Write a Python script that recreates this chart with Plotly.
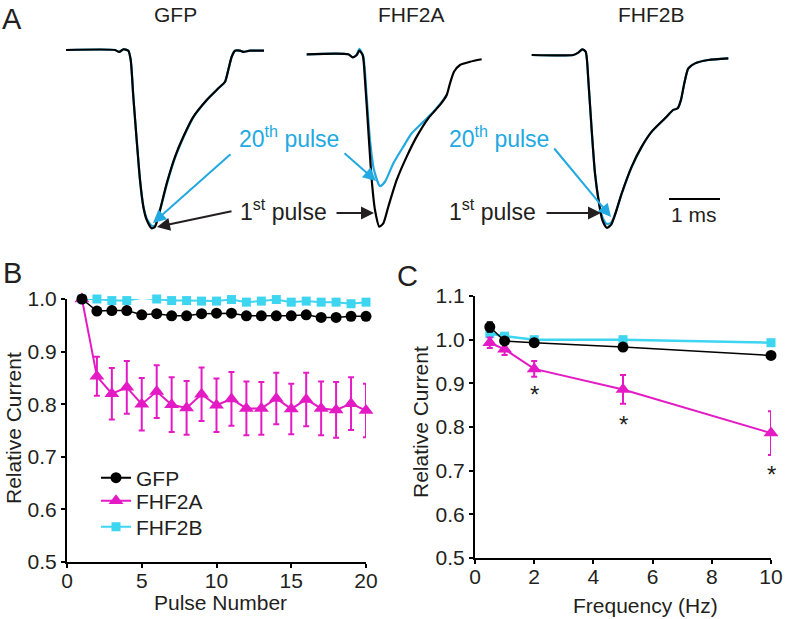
import plotly.graph_objects as go

W, H = 787, 619
FONT = "Liberation Sans, Arial, sans-serif"
TXT = "#231f20"
BLACK = "#000000"
MAGENTA = "#e41bc5"
CYAN = "#3dd5f0"
BLUE = "#22a9e1"

# ---------------- Panel A: current traces (time in ms, normalized current) -------------
GFP_T = [0, 0.961, 1.045, 1.124, 1.222, 1.269, 1.320, 1.386, 1.451, 1.516, 1.582, 1.680, 1.745,
         1.843, 1.975, 2.137, 2.300, 2.496, 2.759, 2.986, 3.118, 3.182, 3.249, 3.314, 3.412,
         3.477, 3.608, 3.882]
GFP_1ST = [0, 0, -0.011, 0.004, -0.004, -0.056, -0.262, -0.505, -0.729, -0.879, -0.953, -1.0,
           -0.991, -0.897, -0.748, -0.599, -0.487, -0.375, -0.280, -0.215, -0.178, -0.112,
           -0.038, -0.004, -0.004, -0.010, -0.004, -0.004]
GFP_20TH = [0, 0, -0.011, 0.004, -0.004, -0.056, -0.262, -0.505, -0.729, -0.875, -0.945, -0.985,
            -0.985, -0.900, -0.755, -0.605, -0.492, -0.378, -0.282, -0.216, -0.178, -0.112,
            -0.038, -0.004, -0.004, -0.010, -0.004, -0.004]

FHF2A_T1 = [0, 0.816, 0.902, 0.980, 1.031, 1.098, 1.143, 1.208, 1.275, 1.339, 1.424, 1.502,
            1.600, 1.765, 1.961, 2.157, 2.384, 2.614, 2.745, 2.810, 2.888, 3.006, 3.202, 3.431]
FHF2A_1ST = [-0.024, -0.024, -0.041, -0.028, -0.004, -0.028, -0.168, -0.449, -0.729, -0.897,
             -0.991, -0.972, -0.879, -0.729, -0.598, -0.486, -0.383, -0.308, -0.252, -0.187,
             -0.122, -0.084, -0.066, -0.052]
FHF2A_T20 = [0, 0.816, 0.902, 0.980, 1.031, 1.110, 1.176, 1.241, 1.320, 1.437, 1.535, 1.698,
             1.894, 2.059, 2.222, 2.484, 2.680, 2.745]
FHF2A_20TH = [-0.024, -0.024, -0.041, -0.028, 0.006, -0.038, -0.262, -0.505, -0.673, -0.763,
              -0.739, -0.636, -0.542, -0.467, -0.421, -0.346, -0.280, -0.252]

FHF2B_T = [0, 0.816, 0.914, 0.992, 1.059, 1.110, 1.176, 1.241, 1.320, 1.384, 1.471, 1.555, 1.633,
           1.765, 1.961, 2.157, 2.353, 2.614, 2.776, 2.863, 2.927, 2.992, 3.071, 3.202, 3.463,
           3.855]
FHF2B_1ST = [-0.028, -0.028, -0.015, 0.004, -0.010, -0.168, -0.449, -0.692, -0.860, -0.953,
             -0.997, -0.981, -0.925, -0.804, -0.654, -0.542, -0.458, -0.383, -0.336, -0.327,
             -0.280, -0.187, -0.103, -0.075, -0.056, -0.047]
FHF2B_20TH = [-0.028, -0.028, -0.015, 0.004, -0.010, -0.168, -0.449, -0.692, -0.855, -0.935,
              -0.975, -0.970, -0.922, -0.806, -0.656, -0.544, -0.458, -0.383, -0.336, -0.327,
              -0.280, -0.187, -0.103, -0.075, -0.056, -0.047]
SCALE_BAR_MS = 1.0
TRACE_TITLES = ["GFP", "FHF2A", "FHF2B"]

# ---------------- Panel B: relative current vs pulse number ----------------
PULSES = list(range(1, 21))
B_GFP = [1.0, 0.977, 0.978, 0.978, 0.970, 0.972, 0.968, 0.968, 0.972, 0.973, 0.973, 0.968,
         0.968, 0.968, 0.968, 0.970, 0.965, 0.965, 0.967, 0.967]
B_FHF2B = [1.0, 1.0, 0.997, 0.997, 1.002, 1.0, 0.997, 0.997, 0.996, 0.996, 0.999, 0.994, 0.996,
           0.999, 0.994, 0.996, 0.994, 0.994, 0.991, 0.994]
B_FHF2A = [1.0, 0.853, 0.820, 0.832, 0.800, 0.824, 0.799, 0.793, 0.819, 0.798, 0.810, 0.792,
           0.792, 0.811, 0.791, 0.809, 0.792, 0.789, 0.801, 0.788]
B_FHF2A_ERR = [0, 0.037, 0.049, 0.050, 0.050, 0.050, 0.052, 0.051, 0.051, 0.051, 0.051, 0.051,
               0.050, 0.049, 0.048, 0.051, 0.051, 0.053, 0.050, 0.051]

# ---------------- Panel C: relative current vs frequency ----------------
FREQ = [0.5, 1, 2, 5, 10]
C_GFP = [1.029, 0.997, 0.993, 0.983, 0.964]
C_GFP_ERR = [0.011, 0.004, 0.003, 0.003, 0.003]
C_FHF2B = [1.014, 1.008, 1.0, 1.0, 0.993]
C_FHF2A = [0.993, 0.978, 0.933, 0.886, 0.786]
C_FHF2A_ERR = [0.012, 0.013, 0.018, 0.033, 0.050]
SIG_FREQ = [2, 5, 10]
SIG_Y = [0.874, 0.806, 0.691]

SERIES = ["GFP", "FHF2A", "FHF2B"]


def X(px):
    return px / W


def Y(py):
    return 1 - py / H


fig = go.Figure()

# ---- Panel A traces ----
tr_axes = [("x3", "y3"), ("x4", "y3"), ("x5", "y3")]
pairs = [(GFP_T, GFP_20TH, GFP_T, GFP_1ST),
         (FHF2A_T20, FHF2A_20TH, FHF2A_T1, FHF2A_1ST),
         (FHF2B_T, FHF2B_20TH, FHF2B_T, FHF2B_1ST)]
for (xa, ya), (t20, v20, t1, v1) in zip(tr_axes, pairs):
    fig.add_trace(go.Scatter(x=t20, y=v20, mode="lines", xaxis=xa, yaxis=ya,
                             line=dict(color=BLUE, width=2.2, shape="spline", smoothing=0.6),
                             showlegend=False, hoverinfo="skip"))
    fig.add_trace(go.Scatter(x=t1, y=v1, mode="lines", xaxis=xa, yaxis=ya,
                             line=dict(color=BLACK, width=2.2, shape="spline", smoothing=0.6),
                             showlegend=False, hoverinfo="skip"))

# ---- Panel B ----
fig.add_trace(go.Scatter(x=PULSES, y=B_FHF2B, mode="lines+markers", xaxis="x", yaxis="y",
                         line=dict(color=CYAN, width=2),
                         marker=dict(symbol="square", size=9, color=CYAN),
                         cliponaxis=False, showlegend=False))
fig.add_trace(go.Scatter(x=PULSES, y=B_FHF2A, mode="lines+markers", xaxis="x", yaxis="y",
                         line=dict(color=MAGENTA, width=2),
                         marker=dict(symbol="triangle-up", size=13, color=MAGENTA),
                         error_y=dict(type="data", array=B_FHF2A_ERR, color=MAGENTA,
                                      thickness=2, width=3),
                         cliponaxis=False, showlegend=False))
fig.add_trace(go.Scatter(x=PULSES, y=B_GFP, mode="lines+markers", xaxis="x", yaxis="y",
                         line=dict(color=BLACK, width=1.5),
                         marker=dict(symbol="circle", size=11, color=BLACK),
                         cliponaxis=False, showlegend=False))

# legend entries (one legend per entry for exact spacing)
leg_styles = [dict(line=dict(color=BLACK, width=2), marker=dict(size=11, color=BLACK)),
              dict(line=dict(color=MAGENTA, width=2),
                   marker=dict(symbol="triangle-up", size=13, color=MAGENTA)),
              dict(line=dict(color=CYAN, width=2),
                   marker=dict(symbol="square", size=9, color=CYAN))]
leg_ids = ["legend", "legend2", "legend3"]
for name, st, lid in zip(SERIES, leg_styles, leg_ids):
    fig.add_trace(go.Scatter(x=[None], y=[None], mode="lines+markers", name=name,
                             legend=lid, **st))

# ---- Panel C ----
fig.add_trace(go.Scatter(x=FREQ, y=C_FHF2B, mode="lines+markers", xaxis="x2", yaxis="y2",
                         line=dict(color=CYAN, width=2.5),
                         marker=dict(symbol="square", size=9, color=CYAN),
                         cliponaxis=False, showlegend=False))
fig.add_trace(go.Scatter(x=FREQ, y=C_FHF2A, mode="lines+markers", xaxis="x2", yaxis="y2",
                         line=dict(color=MAGENTA, width=2),
                         marker=dict(symbol="triangle-up", size=13, color=MAGENTA),
                         error_y=dict(type="data", array=C_FHF2A_ERR, color=MAGENTA,
                                      thickness=2, width=3),
                         cliponaxis=False, showlegend=False))
fig.add_trace(go.Scatter(x=FREQ, y=C_GFP, mode="lines+markers", xaxis="x2", yaxis="y2",
                         line=dict(color=BLACK, width=1.5),
                         marker=dict(symbol="circle", size=11, color=BLACK),
                         error_y=dict(type="data", array=C_GFP_ERR, color=BLACK,
                                      thickness=2, width=3),
                         cliponaxis=False, showlegend=False))

ann = []
# asterisks
for f, y in zip(SIG_FREQ, SIG_Y):
    ann.append(dict(x=f, y=y, xref="x2", yref="y2", text="*", showarrow=False,
                    xanchor="center", yanchor="middle",
                    font=dict(size=24, color=TXT, family=FONT)))

# panel letters
for txt, px, py in [("A", 12, 19), ("B", 12, 273), ("C", 407, 276)]:
    ann.append(dict(x=X(px), y=Y(py), xref="paper", yref="paper", text=txt, showarrow=False,
                    font=dict(size=29, color=TXT, family=FONT), xanchor="center", yanchor="middle"))

# trace titles
for txt, px in zip(TRACE_TITLES, [175, 411, 651]):
    ann.append(dict(x=X(px), y=Y(14), xref="paper", yref="paper", text=txt, showarrow=False,
                    font=dict(size=21, color=TXT, family=FONT), xanchor="center", yanchor="middle"))

# pulse labels
for txt, col, px, py in [("20<sup>th</sup> pulse", BLUE, 237, 137),
                         ("20<sup>th</sup> pulse", BLUE, 447, 137),
                         ("1<sup>st</sup> pulse", TXT, 238, 210),
                         ("1<sup>st</sup> pulse", TXT, 447, 210)]:
    ann.append(dict(x=X(px), y=Y(py), xref="paper", yref="paper", text=txt, showarrow=False,
                    font=dict(size=23, color=col, family=FONT), xanchor="left", yanchor="middle"))

# arrows (tail -> tip, pixel coords)
for col, tail, tip in [(BLUE, (232, 153), (153, 223)),
                       (BLUE, (343, 152), (376, 181)),
                       (BLUE, (553, 147), (611, 217)),
                       (TXT, (233, 211), (157, 227)),
                       (TXT, (335, 213), (374, 213)),
                       (TXT, (545, 213), (601, 213))]:
    ann.append(dict(x=X(tip[0]), y=Y(tip[1]), xref="paper", yref="paper", text="",
                    showarrow=True, ax=tail[0] - tip[0], ay=tail[1] - tip[1],
                    arrowcolor=col, arrowwidth=2, arrowhead=2, arrowsize=1.3, standoff=0))

# scale bar label
ann.append(dict(x=3.19, y=-0.925, xref="x5", yref="y3", text="1 ms", showarrow=False,
                font=dict(size=21, color=TXT, family=FONT), xanchor="center", yanchor="middle"))

# axis titles
for txt, px, py, ang in [("Relative Current", 13, 428, -90), ("Relative Current", 420, 422, -90),
                         ("Pulse Number", 220, 602, 0), ("Frequency (Hz)", 645, 605, 0)]:
    ann.append(dict(x=X(px), y=Y(py), xref="paper", yref="paper", text=txt, textangle=ang,
                    showarrow=False, xanchor="center", yanchor="middle",
                    font=dict(size=21, color=TXT, family=FONT)))

shapes = [dict(type="line", xref="x5", yref="y3", x0=2.692, x1=2.692 + SCALE_BAR_MS,
               y0=-0.836, y1=-0.836, line=dict(color=BLACK, width=2))]

axis_style = dict(showline=True, linecolor=BLACK, linewidth=2, ticks="outside", ticklen=4,
                  tickwidth=2, tickcolor=BLACK, showgrid=False, zeroline=False, automargin=False,
                  tickfont=dict(size=21, color=TXT, family=FONT))
hidden = dict(visible=False, showgrid=False, zeroline=False, fixedrange=True, automargin=False)

leg_common = dict(xanchor="left", yanchor="middle", bgcolor="rgba(0,0,0,0)",
                  font=dict(size=21, color=TXT, family=FONT), borderwidth=0)

fig.update_layout(
    template="none",
    width=W, height=H, autosize=False,
    margin=dict(l=0, r=0, t=0, b=0, pad=0, autoexpand=False),
    paper_bgcolor="white", plot_bgcolor="white",
    font=dict(family=FONT, color=TXT),
    xaxis=dict(domain=[X(67), X(366)], range=[0, 20], tickvals=[0, 5, 10, 15, 20], anchor="y",
               ticklabelstandoff=-5, **axis_style),
    yaxis=dict(domain=[Y(562), Y(299)], range=[0.5, 1.0], dtick=0.1, tickformat=".1f",
               anchor="x", **axis_style),
    xaxis2=dict(domain=[X(475), X(771)], range=[0, 10], dtick=2, anchor="y2",
                ticklabelstandoff=-5, **axis_style),
    yaxis2=dict(domain=[Y(558), Y(296)], range=[0.5, 1.1], dtick=0.1, tickformat=".1f",
                anchor="x2", **axis_style),
    xaxis3=dict(domain=[X(60), X(275)], range=[(60 - 66) / 51, (275 - 66) / 51], anchor="y3",
                **hidden),
    xaxis4=dict(domain=[X(300), X(490)], range=[(300 - 306.7) / 51, (490 - 306.7) / 51],
                anchor="y3", **hidden),
    xaxis5=dict(domain=[X(525), X(735)], range=[(525 - 531.7) / 51, (735 - 531.7) / 51],
                anchor="y3", **hidden),
    yaxis3=dict(domain=[Y(240), Y(40)], range=[-(240 - 50) / 178.3, -(40 - 50) / 178.3],
                anchor="x3", **hidden),
    legend=dict(x=X(96), y=Y(478), **leg_common),
    legend2=dict(x=X(96), y=Y(501), **leg_common),
    legend3=dict(x=X(96), y=Y(527), **leg_common),
    annotations=ann, shapes=shapes,
)

fig.write_html("out.html", config={"responsive": False, "displayModeBar": False},
               post_script="document.body.style.margin='0';")
